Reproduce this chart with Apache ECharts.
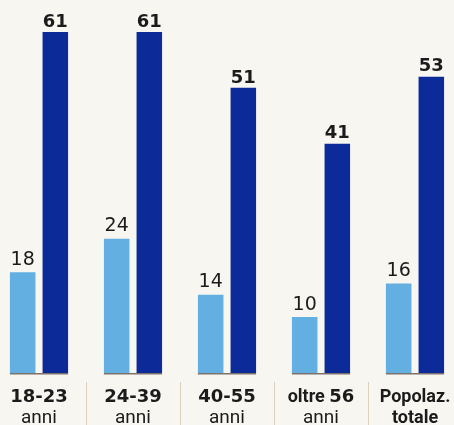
<!DOCTYPE html>
<html>
<head>
<meta charset="utf-8">
<style>
  html, body { margin: 0; padding: 0; background: #f8f6f0; overflow: hidden; }
  #chart { width: 470px; height: 425px; margin-left: -8px; }
</style>
<script src="https://cdn.jsdelivr.net/npm/echarts@6/dist/echarts.min.js"></script>
</head>
<body>
<div id="chart"></div>
<script>
// Age groups: first label line and second label line
const groupLine1 = ['18-23', '24-39', '40-55', 'oltre 56', 'Popolaz.'];
const groupLine2 = ['anni', 'anni', 'anni', 'anni', 'totale'];
// Values per group (percent)
const lightValues = [18, 24, 14, 10, 16];
const darkValues = [61, 61, 51, 41, 53];

const BAR_W = 25.5;
const GAP_PCT = 28;
const NUM_FONT = 'DejaVu Sans';
const TXT_FONT = 'Roboto';
const INK = '#1b1b1b';

const chart = echarts.init(document.getElementById('chart'), null, { renderer: 'canvas' });

// wide figures, narrower letters: split a label into digit and letter runs
function richRuns(text, numStyle, txtStyle) {
  return (text.match(/[\d-]+|[^\d-]+/g) || [])
    .map(function (run) {
      return '{' + (/^[\d-]+$/.test(run) ? numStyle : txtStyle) + '|' + run + '}';
    })
    .join('');
}

chart.setOption({
  backgroundColor: '#f8f6f0',
  animation: false,
  grid: {
    left: 0, right: 0, top: 9.6, bottom: 52,
    containLabel: false,
    outerBoundsMode: 'none'
  },
  xAxis: [
    {
      type: 'category',
      data: groupLine1,
      axisLine: { show: false },
      axisTick: { show: false },
      axisLabel: {
        interval: 0,
        margin: 14,
        formatter: function (value, idx) {
          const second = groupLine2[idx];
          const secondStyle = idx === groupLine1.length - 1 ? 'tb' : 'tr';
          return richRuns(value, 'nb', 'tb') + '\n{' + secondStyle + '|' + second + '}';
        },
        rich: {
          nb: { fontFamily: NUM_FONT, fontWeight: 'bold', fontSize: 18, lineHeight: 21, color: INK },
          tb: { fontFamily: TXT_FONT, fontWeight: 'bold', fontSize: 18, lineHeight: 21, color: INK },
          tr: { fontFamily: TXT_FONT, fontWeight: 'normal', fontSize: 19, lineHeight: 21, color: INK }
        }
      }
    },
    {
      // thin separators between groups, drawn as boundary ticks below the bars
      type: 'category',
      data: groupLine1,
      position: 'bottom',
      offset: 9,
      axisLine: { show: false },
      axisLabel: { show: false },
      axisTick: { show: true, length: 45, lineStyle: { color: '#dcd0bd', width: 1 } }
    }
  ],
  yAxis: {
    type: 'value',
    min: 0,
    max: 65,
    show: false,
    splitLine: { show: false }
  },
  series: [
    {
      type: 'bar',
      data: lightValues,
      barWidth: BAR_W,
      barGap: GAP_PCT + '%',
      itemStyle: { color: '#63afe2' },
      label: {
        show: true, position: 'top', distance: 3,
        fontFamily: NUM_FONT, fontWeight: 'normal', fontSize: 19, color: INK
      }
    },
    {
      type: 'bar',
      data: darkValues,
      barWidth: BAR_W,
      barGap: GAP_PCT + '%',
      itemStyle: { color: '#0c2a98' },
      label: {
        show: true, position: 'top', distance: 1,
        fontFamily: NUM_FONT, fontWeight: 'bold', fontSize: 18, color: INK
      }
    },
    {
      // short baseline under each pair of bars
      type: 'custom',
      data: lightValues.map(function (_, i) { return [i, 0]; }),
      renderItem: function (params, api) {
        const p = api.coord([api.value(0), 0]);
        const half = BAR_W + BAR_W * GAP_PCT / 200;
        return {
          type: 'line',
          shape: { x1: p[0] - half, y1: p[1] + 0.75, x2: p[0] + half, y2: p[1] + 0.75 },
          style: { stroke: '#7d716c', lineWidth: 1.6 }
        };
      },
      z: 5
    }
  ]
});
</script>
</body>
</html>
